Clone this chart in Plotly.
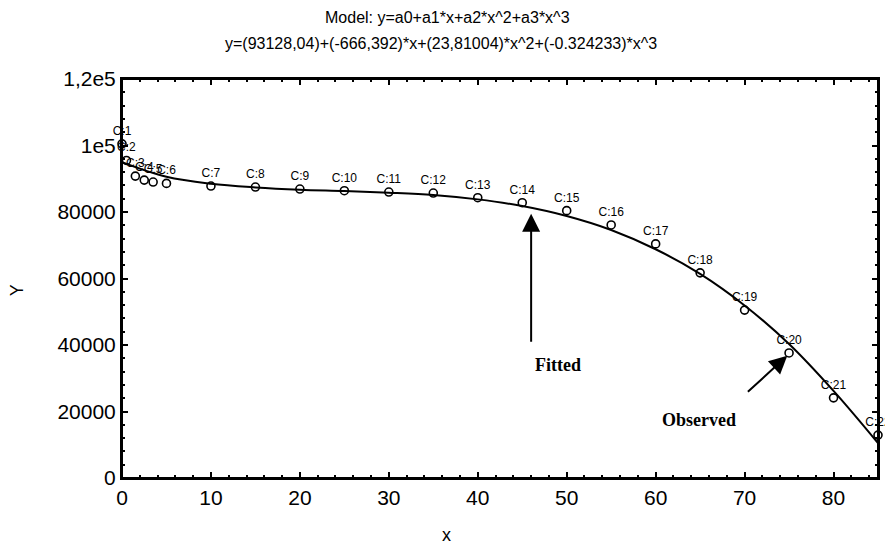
import plotly.graph_objects as go

# Observed cases
case_labels = ["C:1", "C:2", "C:3", "C:4", "C:5", "C:6", "C:7", "C:8", "C:9", "C:10", "C:11",
               "C:12", "C:13", "C:14", "C:15", "C:16", "C:17", "C:18", "C:19", "C:20", "C:21", "C:22"]
obs_x = [0, 0.5, 1.5, 2.5, 3.5, 5, 10, 15, 20, 25, 30, 35, 40, 45, 50, 55, 60, 65, 70, 75, 80, 85]
obs_y = [100500, 95500, 90800, 89600, 89000, 88600, 87800, 87500, 86900, 86400, 86000,
         85700, 84300, 82800, 80400, 76100, 70400, 61700, 50500, 37600, 24100, 12900]

# Fitted curve
fit_x = [0, 5, 10, 15, 20, 25, 30, 35, 40, 45, 50, 55, 60, 65, 70, 75, 80, 85]
fit_y = [95000, 90600, 88500, 87400, 86700, 86300, 85800, 85100, 83800, 81800, 78800,
         74600, 68800, 61400, 51900, 40300, 26200, 10500]

x_range = [0, 85]
y_range = [0, 120000]
y_tickvals = [0, 20000, 40000, 60000, 80000, 100000, 120000]
y_ticktext = ["0", "20000", "40000", "60000", "80000", "1e5", "1,2e5"]

title1 = "Model: y=a0+a1*x+a2*x^2+a3*x^3"
title2 = "y=(93128,04)+(-666,392)*x+(23,81004)*x^2+(-0.324233)*x^3"

fig = go.Figure()
fig.add_trace(go.Scatter(
    x=fit_x, y=fit_y, mode="lines", line=dict(color="black", width=2, shape="spline"),
    showlegend=False, hoverinfo="skip"))
fig.add_trace(go.Scatter(
    x=obs_x, y=obs_y, mode="markers+text", text=case_labels, textposition="top center",
    textfont=dict(family="Liberation Sans", size=12, color="black"),
    marker=dict(symbol="circle-open", size=8, color="black", line=dict(width=1.6)),
    cliponaxis=False, showlegend=False))

axis_common = dict(showline=True, linecolor="black", linewidth=2, mirror="allticks",
                   ticks="inside", ticklen=6, tickwidth=1.5, tickcolor="black",
                   showgrid=False, zeroline=False,
                   tickfont=dict(family="Liberation Sans", size=21, color="black"))

fig.update_xaxes(range=x_range, dtick=10, tick0=0,
                 minor=dict(ticks="inside", dtick=2, ticklen=3, tickcolor="black"),
                 **axis_common)
fig.update_yaxes(range=y_range, tickvals=y_tickvals, ticktext=y_ticktext,
                 minor=dict(ticks="inside", tickvals=list(range(0, 120001, 4000)), ticklen=3,
                            tickcolor="black"),
                 **axis_common)

annots = [
    dict(text=title1, xref="paper", yref="paper", x=0.43, y=1.153, showarrow=False,
         xanchor="center", yanchor="middle",
         font=dict(family="Liberation Sans", size=16, color="black")),
    dict(text=title2, xref="paper", yref="paper", x=0.422, y=1.090, showarrow=False,
         xanchor="center", yanchor="middle",
         font=dict(family="Liberation Sans", size=16, color="black")),
    dict(text="x", xref="paper", yref="paper", x=0.429, y=-0.143, showarrow=False,
         xanchor="center", yanchor="middle",
         font=dict(family="Liberation Sans", size=18, color="black")),
    dict(text="Y", xref="paper", yref="paper", x=-0.138, y=0.47, showarrow=False,
         xanchor="center", yanchor="middle",
         textangle=-90, font=dict(family="Liberation Sans", size=18, color="black")),
    dict(text="<b>Fitted</b>", x=49, y=34000, xref="x", yref="y", showarrow=False,
         xanchor="center", yanchor="middle",
         font=dict(family="Liberation Serif", size=18, color="black")),
    dict(x=46, y=79500, ax=46, ay=40500, xref="x", yref="y", axref="x", ayref="y",
         text="", showarrow=True, arrowhead=2, arrowsize=1.8, arrowwidth=2, arrowcolor="black"),
    dict(text="<b>Observed</b>", x=64.9, y=17400, xref="x", yref="y", showarrow=False,
         xanchor="center", yanchor="middle",
         font=dict(family="Liberation Serif", size=18, color="black")),
    dict(x=74.8, y=36800, ax=70.2, ay=25500, xref="x", yref="y", axref="x", ayref="y",
         text="", showarrow=True, arrowhead=2, arrowsize=1.8, arrowwidth=2, arrowcolor="black"),
]

# The page has an 8px body margin; size the figure so the page does not overflow the window.
fig.update_layout(
    width=877, height=537,
    margin=dict(l=114, r=5, t=71, b=67),
    paper_bgcolor="white", plot_bgcolor="white",
    annotations=annots,
    shapes=[dict(type="rect", xref="paper", yref="paper", x0=0, y0=0, x1=1, y1=1,
                 line=dict(color="black", width=2), layer="above")],
)

fig.write_html("out.html")
